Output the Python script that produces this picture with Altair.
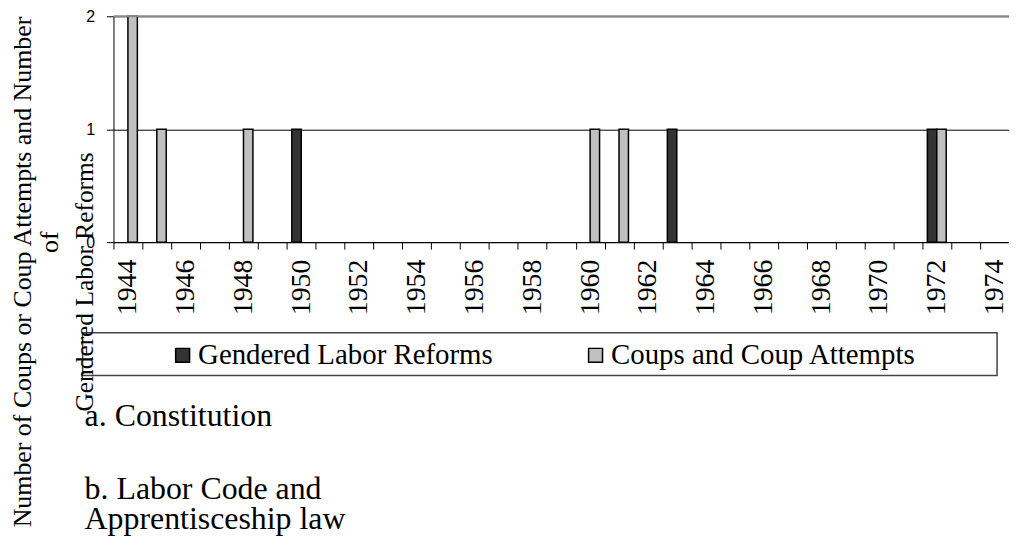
import altair as alt
import pandas as pd

years = list(range(1944, 1975))
series = ["Gendered Labor Reforms", "Coups and Coup Attempts"]
colors = ["#333333", "#c0c0c0"]

reform_years = [1950, 1963, 1972]
reform_counts = [1, 1, 1]
coup_years = [1944, 1945, 1948, 1960, 1961, 1972]
coup_counts = [2, 1, 1, 1, 1, 1]

y_ticks = [0, 1, 2]
y_title_lines = ["Number  of Coups or Coup Attempts  and Number", "of", "Gendered Labor Reforms"]
notes = ["a. Constitution", "b. Labor Code and", "Apprentisceship law"]

rows = [{"year": y, "series": series[0], "count": c} for y, c in zip(reform_years, reform_counts)]
rows += [{"year": y, "series": series[1], "count": c} for y, c in zip(coup_years, coup_counts)]
df = pd.DataFrame(rows)

SERIF = "Liberation Serif, Times New Roman, serif"

bars = alt.Chart(df).mark_bar(stroke="black", strokeWidth=1.5).encode(
    x=alt.X(
        "year:O",
        scale=alt.Scale(domain=years, paddingInner=0, paddingOuter=0),
        axis=alt.Axis(
            title=None, labelAngle=-90, labelAlign="right", labelBaseline="middle",
            labelExpr="datum.value % 2 == 0 ? datum.label : ''", tickBand="extent",
            labelFont=SERIF, labelFontSize=28, labelColor="black",
            tickColor="black", tickSize=7, domainColor="black", labelPadding=10,
            grid=False,
        ),
    ),
    xOffset=alt.XOffset("series:N", scale=alt.Scale(domain=series, paddingInner=0, paddingOuter=0.53)),
    y=alt.Y(
        "count:Q",
        scale=alt.Scale(domain=[0, 2]),
        axis=alt.Axis(
            values=y_ticks, labelExpr="datum.value + ''", title=None,
            grid=True, gridColor="black", gridWidth=1,
            labelFont="Liberation Sans", labelFontSize=16, labelColor="black",
            tickColor="black", tickSize=7, domainColor="black", labelPadding=12,
        ),
    ),
    color=alt.Color(
        "series:N",
        scale=alt.Scale(domain=series, range=colors),
        legend=alt.Legend(
            title=None, orient="none", legendX=55, legendY=326, direction="horizontal",
            symbolType="square", symbolSize=196, symbolStrokeColor="black", symbolStrokeWidth=1.5,
            labelFont=SERIF, labelFontSize=29, labelColor="black", labelLimit=600,
            labelOffset=1, columnPadding=88, padding=0,
        ),
    ),
)

one = pd.DataFrame({"k": [0]})

top_line = alt.Chart(one).mark_rule(color="#888888", strokeWidth=2).encode(
    y=alt.value(0)
)

legend_box = alt.Chart(one).mark_rect(filled=False, stroke="#444444", strokeWidth=1.5).encode(
    x=alt.value(-31), x2=alt.value(888), y=alt.value(318), y2=alt.value(361)
)


def txt(s, x, y, size, angle=0, align="left"):
    return alt.Chart(one).mark_text(
        font=SERIF, fontSize=size, color="black", angle=angle, align=align, baseline="alphabetic"
    ).encode(x=alt.value(x), y=alt.value(y), text=alt.value(s))


layers = [
    bars, top_line, legend_box,
    txt(y_title_lines[0], -83, 257, 26, angle=270, align="center"),
    txt(y_title_lines[1], -56, 227, 26, angle=270, align="center"),
    txt(y_title_lines[2], -21, 267, 25.5, angle=270, align="center"),
    txt(notes[0], -29, 412, 32),
    txt(notes[1], -29, 485, 32),
    txt(notes[2], -29, 515, 32),
]

chart = alt.layer(*layers).properties(
    width=900, height=227,
    autosize=alt.AutoSizeParams(type="none"),
    padding={"left": 106, "top": 7, "right": 0, "bottom": 296},
).configure_view(stroke=None)

chart.save("out.html", embed_options={"renderer": "svg", "actions": False})
